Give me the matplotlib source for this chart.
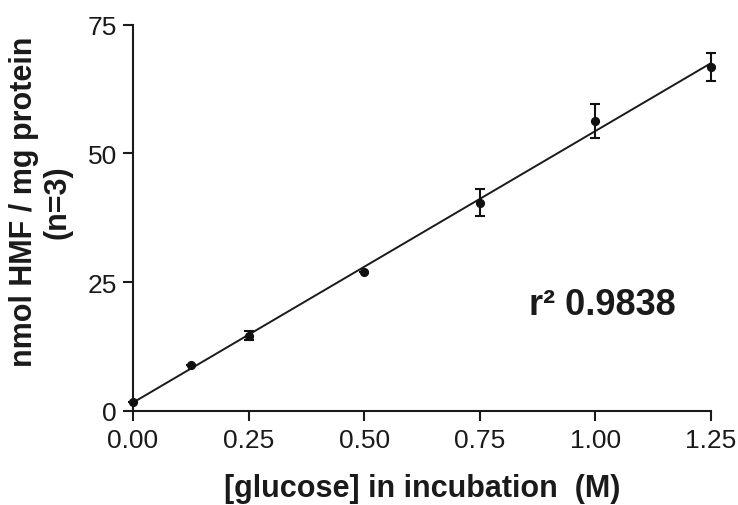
import numpy as np
import matplotlib
matplotlib.use("Agg")
import matplotlib.pyplot as plt

# Glucose concentration (M) and HMF formation (nmol / mg protein), mean ± SD
glucose = [0.0, 0.125, 0.25, 0.5, 0.75, 1.0, 1.25]
hmf_mean = [1.6, 8.9, 14.6, 26.9, 40.4, 56.3, 66.8]
hmf_sd = [0.0, 0.0, 0.8, 0.0, 2.6, 3.3, 2.75]
x_ticks = [0.0, 0.25, 0.5, 0.75, 1.0, 1.25]
x_tick_labels = ["0.00", "0.25", "0.50", "0.75", "1.00", "1.25"]
y_ticks = [0, 25, 50, 75]
r_squared_text = "r² 0.9838"

plt.rcParams["font.family"] = ["Liberation Sans", "DejaVu Sans"]
ink = "#1a1a1a"

W, H = 738, 506
fig = plt.figure(figsize=(W / 100, H / 100), dpi=100)
left, right, top, bottom = 133, 711, 25.7, 411.7
ax = fig.add_axes([left / W, 1 - bottom / H, (right - left) / W, (bottom - top) / H])

x = np.array(glucose)
y = np.array(hmf_mean)
slope, intercept = np.polyfit(x, y, 1)
xf = np.array([0.0, 1.25])
ax.plot(xf, slope * xf + intercept, color=ink, lw=1.4, clip_on=False, zorder=2)

ax.errorbar(x, y, yerr=hmf_sd, fmt="o", color="#111111", ms=5.6, elinewidth=1.5,
            capsize=3.4, capthick=1.5, clip_on=False, zorder=3)

ax.set_xlim(0, 1.25)
ax.set_ylim(0, 75)
ax.set_xticks(x_ticks)
ax.set_xticklabels(x_tick_labels)
ax.set_yticks(y_ticks)
for s in ["top", "right"]:
    ax.spines[s].set_visible(False)
for s in ["left", "bottom"]:
    ax.spines[s].set_linewidth(1.5)
    ax.spines[s].set_color(ink)
ax.tick_params(axis="both", direction="out", length=7.5, width=1.5, labelsize=19,
               colors=ink)
ax.tick_params(axis="x", pad=5)
ax.tick_params(axis="y", pad=4)

ax.set_xlabel("[glucose] in incubation  (M)", fontsize=22, fontweight="bold",
              color=ink, va="baseline")
ax.xaxis.set_label_coords(0.5, (bottom - 497) / (bottom - top))

fig.text(41 / W, 1 - 202 / H, "nmol HMF / mg protein\n(n=3)", rotation=90,
         ha="center", va="center", multialignment="center", fontsize=22,
         fontweight="bold", color=ink, linespacing=1.15)

ax.text(1.015, 18.8, r_squared_text, fontsize=26, fontweight="bold",
        ha="center", va="baseline", color=ink)

fig.savefig("out.png", dpi=100, facecolor="white")
